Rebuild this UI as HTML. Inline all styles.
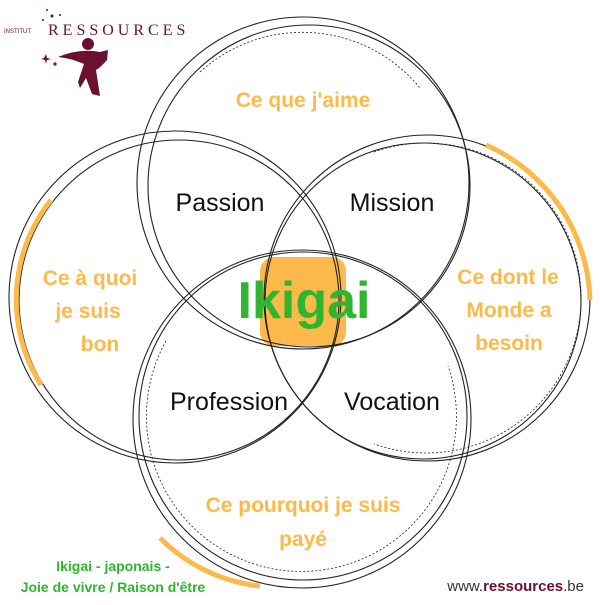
<!DOCTYPE html>
<html><head><meta charset="utf-8"><style>
body{margin:0;background:#fff;width:600px;height:600px;overflow:hidden;font-family:"Liberation Sans",sans-serif}
</style></head><body>
<svg width="600" height="600" viewBox="0 0 600 600" xmlns="http://www.w3.org/2000/svg" font-family="Liberation Sans, sans-serif">
<rect x="260" y="257" width="86" height="89" rx="14" fill="#fdb94a"/>
<g fill="none" stroke="#222" stroke-width="1.1">
<circle cx="303" cy="183" r="166"/>
<circle cx="309" cy="186" r="161"/>
<path d="M200 72 A152 152 0 0 1 420 88" stroke-dasharray="2,2" stroke-width="0.8"/>
<circle cx="175" cy="297" r="166"/>
<circle cx="179" cy="300" r="160"/>
<circle cx="427" cy="298" r="163"/>
<circle cx="423" cy="301" r="158"/>
<path d="M374 152 A155 155 0 1 1 374 444" stroke-dasharray="2,2" stroke-width="0.8"/>
<circle cx="302" cy="419" r="169"/>
<circle cx="303" cy="416" r="164"/>
<path d="M166 341 A155 155 0 1 0 448 366" stroke-dasharray="2,2" stroke-width="0.8"/>
</g>
<g fill="none" stroke="#fdb94a" stroke-width="5" stroke-linecap="butt">
<path d="M51 200 A160 160 0 0 0 41 385"/>
<path d="M486 145 A175 175 0 0 1 590 300"/>
<path d="M160 538 A166 166 0 0 0 260 586"/>
</g>
<g fill="#fdb94a" font-weight="bold" font-size="21" text-anchor="middle">
<text x="303" y="107">Ce que j'aime</text>
<text x="90" y="285">Ce à quoi</text>
<text x="88" y="318">je suis</text>
<text x="100" y="351">bon</text>
<text x="508" y="284">Ce dont le</text>
<text x="509" y="317">Monde a</text>
<text x="509" y="350">besoin</text>
<text x="303" y="512">Ce pourquoi je suis</text>
<text x="303" y="546">payé</text>
</g>
<g fill="#111" font-size="25" text-anchor="middle">
<text x="220" y="211">Passion</text>
<text x="392" y="211">Mission</text>
<text x="229" y="410">Profession</text>
<text x="392" y="410">Vocation</text>
</g>
<text x="304" y="318" fill="#2fb52f" font-weight="bold" font-size="52" text-anchor="middle">Ikigai</text>
<g fill="#2fb52f" font-weight="bold" font-size="14" text-anchor="middle">
<text x="113" y="571">Ikigai - japonais -</text>
<text x="113" y="592">Joie de vivre / Raison d'être</text>
</g>
<text x="584" y="591" font-size="15" text-anchor="end" fill="#333">www.<tspan fill="#6b1030" font-weight="bold">ressources</tspan>.be</text>
<text x="4" y="33" font-size="6" fill="#6b1030">INSTITUT</text>
<text x="48" y="35" font-size="16" letter-spacing="4" fill="#6b1030" font-family="Liberation Serif, serif">RESSOURCES</text>
<g fill="#6b1030">
<circle cx="88" cy="44" r="6"/>
<path d="M58 57 Q80 48 100 52 L108 50 L107 60 Q100 68 96 70 L100 96 L92 94 L86 78 L80 88 L78 82 L84 64 Q70 58 58 57Z"/>
<path d="M44 58 l2 -4 l1 4 l4 1 l-4 1 l-1 4 l-1 -4 l-4 -1z"/>
<circle cx="55" cy="64" r="1.6"/><circle cx="47" cy="10" r="1"/><circle cx="52" cy="16" r="1.5"/><circle cx="60" cy="15" r="1"/><circle cx="43" cy="20" r="1"/>
</g>
</svg>
</body></html>
